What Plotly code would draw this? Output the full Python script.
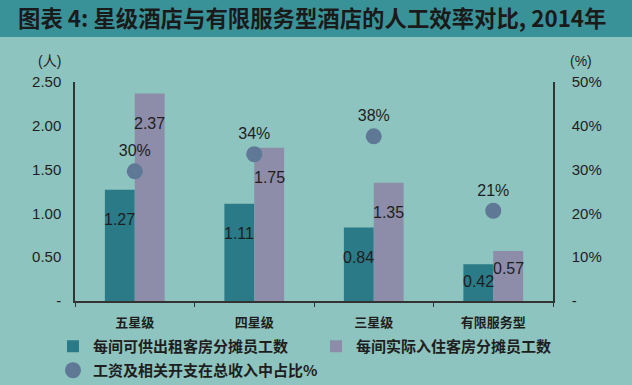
import plotly.graph_objects as go

categories = ["五星级", "四星级", "三星级", "有限服务型"]
staff_per_available_room = [1.27, 1.11, 0.84, 0.42]
staff_per_occupied_room = [2.37, 1.75, 1.35, 0.57]
wage_share_pct = [29.6, 33.5, 37.6, 20.6]
wage_share_labels = ["30%", "34%", "38%", "21%"]

series_names = ["每间可供出租客房分摊员工数", "每间实际入住客房分摊员工数", "工资及相关开支在总收入中占比%"]
left_ticks = [0, 0.5, 1.0, 1.5, 2.0, 2.5]
left_ticktext = ["-", "0.50", "1.00", "1.50", "2.00", "2.50"]
right_ticks = [0, 10, 20, 30, 40, 50]
right_ticktext = ["-", "10%", "20%", "30%", "40%", "50%"]

title_text = "图表 4: 星级酒店与有限服务型酒店的人工效率对比, 2014年"

BG = "#8EC4BF"
BAR_TEAL = "#2A7A88"
BAR_PURPLE = "#8D8CA9"
DOT = "#5E7896"
TXT = "#1E1E1E"
NUM_FONT = "Liberation Sans, Arial, Noto Sans CJK SC"
CJK_FONT = "Noto Sans CJK SC, Liberation Sans"

W, H = 632, 385
ML, MR, MT, MB = 75, 79, 82, 84
PW = W - ML - MR
PH = H - MT - MB

fig = go.Figure()
fig.add_trace(go.Bar(
    x=categories, y=staff_per_available_room, name=series_names[0],
    marker=dict(color=BAR_TEAL, line=dict(width=0)), yaxis="y", legend="legend",
))
fig.add_trace(go.Bar(
    x=categories, y=staff_per_occupied_room, name=series_names[1],
    marker=dict(color=BAR_PURPLE, line=dict(width=0)), yaxis="y", legend="legend",
))
fig.add_trace(go.Scatter(
    x=categories, y=wage_share_pct, name=series_names[2], yaxis="y2", legend="legend2",
    mode="markers+text", text=wage_share_labels, textposition="top center",
    textfont=dict(family=NUM_FONT, size=16, color=TXT),
    marker=dict(color=DOT, size=16, line=dict(width=0)),
))

annotations = []
def shift_for(v):
    return -30 if v > 0.7 else -17

for c, v in zip(categories, staff_per_available_room):
    annotations.append(dict(x=c, y=v, xref="x", yref="y", text=f"{v:.2f}", showarrow=False,
                            xshift=-15, yshift=shift_for(v),
                            font=dict(family=NUM_FONT, size=16, color=TXT)))
for c, v in zip(categories, staff_per_occupied_room):
    annotations.append(dict(x=c, y=v, xref="x", yref="y", text=f"{v:.2f}", showarrow=False,
                            xshift=15, yshift=shift_for(v),
                            font=dict(family=NUM_FONT, size=16, color=TXT)))

annotations.append(dict(x=-39 / PW, y=1 + 21 / PH, xref="paper", yref="paper", text="(人)",
                        showarrow=False, xanchor="left", yanchor="middle",
                        font=dict(family=NUM_FONT, size=14, color=TXT)))
annotations.append(dict(x=1 + 15 / PW, y=1 + 21 / PH, xref="paper", yref="paper", text="(%)",
                        showarrow=False, xanchor="left", yanchor="middle",
                        font=dict(family=NUM_FONT, size=14, color=TXT)))

shapes = [dict(type="rect", xref="paper", yref="paper",
               x0=-ML / PW - 0.01, x1=1 + MR / PW + 0.01,
               y0=1 + (MT - 37) / PH, y1=1 + MT / PH + 0.01,
               fillcolor="#3A9299", line=dict(width=0), layer="below")]

legend_font = dict(family=CJK_FONT, size=15, color=TXT, weight="bold")

fig.update_layout(
    width=W, height=H,
    margin=dict(l=ML, r=MR, t=MT, b=MB, autoexpand=False),
    paper_bgcolor=BG, plot_bgcolor=BG,
    barmode="group", bargap=0.5, bargroupgap=0,
    font=dict(family=NUM_FONT, size=15, color=TXT),
    title=dict(text="<b>" + title_text + "</b>", x=18 / W, xanchor="left",
               y=1 - 19 / H, yanchor="middle",
               font=dict(family=CJK_FONT, size=22.4, color="#1A1A1A")),
    xaxis=dict(showline=True, linecolor="#333333", linewidth=1.5,
               ticks="outside", tickson="boundaries", ticklen=4, tickcolor="#333333",
               tickfont=dict(family=CJK_FONT, size=13, color=TXT, weight="bold"),
               showgrid=False, zeroline=False, ticklabelstandoff=9),
    yaxis=dict(range=[0, 2.5], tickvals=left_ticks, ticktext=left_ticktext,
               showline=True, linecolor="#333333", linewidth=1.5,
               ticks="", showgrid=False, zeroline=False,
               tickfont=dict(family=NUM_FONT, size=15, color=TXT), ticklabelstandoff=9),
    yaxis2=dict(range=[0, 50], tickvals=right_ticks, ticktext=right_ticktext,
                overlaying="y", side="right",
                showline=True, linecolor="#333333", linewidth=1.5,
                ticks="", showgrid=False, zeroline=False,
                tickfont=dict(family=NUM_FONT, size=15, color=TXT), ticklabelstandoff=14),
    showlegend=True,
    legend=dict(orientation="h", x=-22 / PW, xanchor="left", y=-29 / PH, yanchor="top",
                entrywidth=218, entrywidthmode="pixels", traceorder="normal",
                font=legend_font, bgcolor="rgba(0,0,0,0)", itemwidth=30),
    legend2=dict(orientation="h", x=-22 / PW, xanchor="left", y=-53 / PH, yanchor="top",
                 font=legend_font, bgcolor="rgba(0,0,0,0)", itemwidth=30),
    annotations=annotations,
    shapes=shapes,
)

fig.write_html("out.html", config={"displayModeBar": False},
               post_script="document.body.style.margin='0';document.body.style.padding='0';")
